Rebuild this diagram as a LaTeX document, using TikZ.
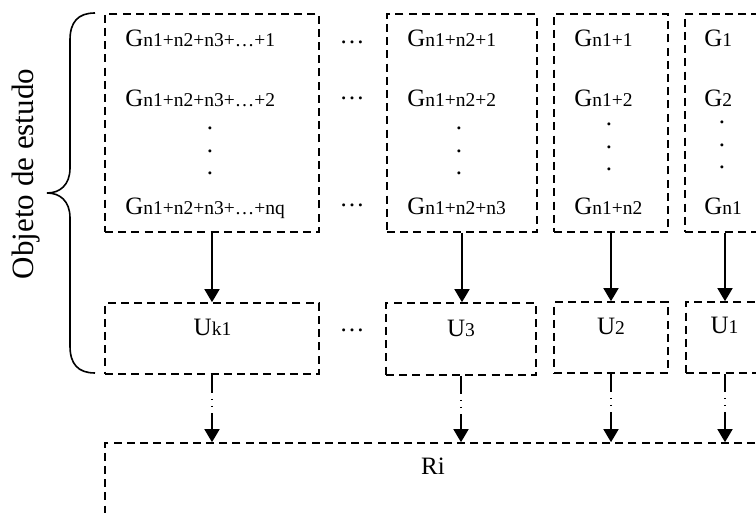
\documentclass[tikz,border=0pt]{standalone}
\usepackage{fontspec}
\setmainfont{Liberation Serif}
\usetikzlibrary{arrows.meta}
\newcommand{\Gbig}{\fontsize{12.5}{14}\selectfont}
\newcommand{\Gsm}{\fontsize{9.75}{12}\selectfont}
\newcommand{\lbl}[2]{{\Gbig #1}{\Gsm #2}}
\begin{document}
\begin{tikzpicture}[x=0.5pt,y=-0.5pt,
  box/.style={draw, line width=0.8pt, dash pattern=on 4pt off 2.6pt, inner sep=0pt},
  txt/.style={anchor=base west, inner sep=0pt, font=\Gbig},
  ctxt/.style={anchor=base, inner sep=0pt, font=\Gbig},
  vdot/.style={anchor=base, inner sep=0pt, font=\Gbig, text height=1.6pt, text depth=0pt},
  arr/.style={line width=0.8pt, -{Triangle[length=6.5pt,width=7.5pt]}},
  darr/.style={arr, dash pattern=on 9pt off 3pt on 0.6pt off 3pt on 0.6pt off 3pt}]
\useasboundingbox (0,0) rectangle (756,513);
\clip (0,0) rectangle (756,513);

% top boxes
\node[box, minimum width=107pt, minimum height=109pt] (A) at (212,123) {};
\node[box, minimum width=75pt, minimum height=109pt] (B) at (462,123) {};
\node[box, minimum width=57pt, minimum height=109pt] (C) at (611,123) {};
\node[box, minimum width=40pt, minimum height=109pt] (D) at (725,123) {};
% unit boxes
\node[box, minimum width=107pt, minimum height=35.5pt] (UA) at (212,338.5) {};
\node[box, minimum width=75pt, minimum height=36pt] (UB) at (461,339) {};
\node[box, minimum width=57pt, minimum height=35.5pt] (UC) at (611,337.5) {};
\node[box, minimum width=39pt, minimum height=35.5pt] (UD) at (725,337.5) {};
% result box
\node[box, minimum width=328pt, minimum height=58.5pt] (ri) at (433,501.5) {};
\node[ctxt] (rilbl) at (433,475) {Ri};

% texts box A
\node[txt] (a1) at (125,47) {\lbl{G}{n1+n2+n3+…+1}};
\node[txt] (a2) at (125,107) {\lbl{G}{n1+n2+n3+…+2}};
\node[vdot] (ad1) at (210,130) {.};
\node[vdot] (ad2) at (210,153) {.};
\node[vdot] (ad3) at (210,175) {.};
\node[txt] (a4) at (125,215) {\lbl{G}{n1+n2+n3+…+nq}};
% texts box B
\node[txt] (b1) at (407,47) {\lbl{G}{n1+n2+1}};
\node[txt] (b2) at (407,107) {\lbl{G}{n1+n2+2}};
\node[vdot] (bd1) at (459,130) {.};
\node[vdot] (bd2) at (459,153) {.};
\node[vdot] (bd3) at (459,175) {.};
\node[txt] (b4) at (407,215) {\lbl{G}{n1+n2+n3}};
% texts box C
\node[txt] (c1) at (574,47) {\lbl{G}{n1+1}};
\node[txt] (c2) at (574,107) {\lbl{G}{n1+2}};
\node[vdot] (cd1) at (609,126) {.};
\node[vdot] (cd2) at (609,149) {.};
\node[vdot] (cd3) at (609,171) {.};
\node[txt] (c4) at (574,215) {\lbl{G}{n1+n2}};
% texts box D
\node[txt] (d1) at (704,47) {\lbl{G}{1}};
\node[txt] (d2) at (704,107) {\lbl{G}{2}};
\node[vdot] (dd1) at (722,124) {.};
\node[vdot] (dd2) at (722,147) {.};
\node[vdot] (dd3) at (722,169) {.};
\node[txt] (d4) at (704,215) {\lbl{G}{n1}};

% unit labels
\node[ctxt] (ua) at (212.5,336) {\lbl{U}{k1}};
\node[ctxt] (ub) at (461,337) {\lbl{U}{3}};
\node[ctxt] (uc) at (611,335) {\lbl{U}{2}};
\node[ctxt] (ud) at (724.5,334) {\lbl{U}{1}};

% ellipses between boxes
\node[ctxt] (e1) at (352,43.5) {…};
\node[ctxt] (e2) at (352,99.5) {…};
\node[ctxt] (e3) at (352,206.5) {…};
\node[ctxt] (e4) at (352,331.5) {…};

% arrows
\draw[arr] (A.south) -- (A.south |- UA.north);
\draw[arr] (B.south) -- (B.south |- UB.north);
\draw[arr] (C.south) -- (C.south |- UC.north);
\draw[arr] (D.south) -- (D.south |- UD.north);
\draw[darr] (UA.south) -- (UA.south |- ri.north);
\draw[darr] (UB.south) -- (UB.south |- ri.north);
\draw[darr] (UC.south) -- (UC.south |- ri.north);
\draw[darr] (UD.south) -- (UD.south |- ri.north);

% brace
\draw[line width=0.8pt] (95,13) .. controls (78,13) and (70,22) .. (70,40) -- (70,168)
  .. controls (70,185) and (60,193) .. (47,193)
  .. controls (60,193) and (70,201) .. (70,218) -- (70,346)
  .. controls (70,364) and (78,373) .. (95,373);
\node[rotate=90, anchor=base, inner sep=0pt, font=\fontsize{15.5}{18}\selectfont] (obj) at (33,174) {Objeto de estudo};
\end{tikzpicture}
\end{document}
